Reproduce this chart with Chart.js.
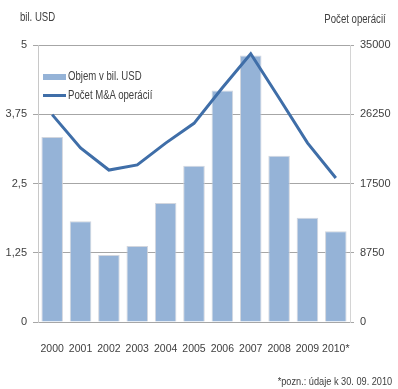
<!DOCTYPE html>
<html>
<head>
<meta charset="utf-8">
<script src="https://cdn.jsdelivr.net/npm/chart.js@4/dist/chart.umd.min.js"></script>
<style>
  html, body { margin: 0; padding: 0; background: #fff; }
  body { width: 398px; height: 389px; position: relative; overflow: hidden;
         font-family: "Liberation Sans", Arial, sans-serif; color: #404040; }
  #wrap { position: absolute; left: 0; top: 0; width: 398px; height: 389px; }
  .lbl { position: absolute; font-size: 12px; white-space: nowrap; line-height: 14px; }
  /* užší rez písma */
  .narrow-l { transform: scaleX(0.8); transform-origin: left center; }
  .narrow-r { transform: scaleX(0.8); transform-origin: right center; }
  .legend { position: absolute; left: 43px; top: 67px; font-size: 12px; line-height: 19px; }
  .legend div { display: flex; align-items: center; }
  .sw-bar { width: 23px; height: 6px; background: #95b3d7; margin-right: 2px; }
  .sw-line { width: 23px; height: 3px; background: #3f6ea8; margin-right: 2px; }
</style>
</head>
<body>
<div id="wrap"><canvas id="chart" width="398" height="389"></canvas></div>
<div class="lbl narrow-l" style="left:20px; top:10px;">bil. USD</div>
<div class="lbl narrow-r" style="right:12px; top:12px;">Počet operácií</div>
<div class="legend">
  <div><span class="sw-bar"></span><span class="narrow-l" style="display:inline-block">Objem v bil. USD</span></div>
  <div><span class="sw-line"></span><span class="narrow-l" style="display:inline-block">Počet M&amp;A operácií</span></div>
</div>
<div class="lbl narrow-r" style="right:6px; top:374px; font-size:11.5px;">*pozn.: údaje k 30. 09. 2010</div>

<script>
// roky, objem transakcií (mld. USD) a počet M&A operácií
const years = ['2000', '2001', '2002', '2003', '2004', '2005', '2006', '2007', '2008', '2009', '2010*'];
const volume = [3.34, 1.82, 1.21, 1.37, 2.15, 2.82, 4.18, 4.81, 3.00, 1.88, 1.64];
const deals = [26200, 22000, 19200, 19850, 22600, 25100, 29600, 33900, 28300, 22640, 18200];
const leftTicks = [0, 1.25, 2.5, 3.75, 5];
const rightTicks = [0, 8750, 17500, 26250, 35000];

const tickFont = { family: '"Liberation Sans", Arial, sans-serif', size: 11 };
const txt = '#404040';

new Chart(document.getElementById('chart'), {
    data: {
        labels: years,
        datasets: [
            {
                type: 'line',
                label: 'Počet M&A operácií',
                data: deals,
                yAxisID: 'y1',
                borderColor: '#3f6ea8',
                borderWidth: 3,
                pointRadius: 0,
                tension: 0,
                order: 0
            },
            {
                type: 'bar',
                label: 'Objem v bil. USD',
                data: volume,
                yAxisID: 'y',
                backgroundColor: '#95b3d7',
                borderColor: 'rgba(205,210,218,0.9)',
                borderWidth: 1,
                barPercentage: 0.76,
                categoryPercentage: 1,
                order: 1
            }
        ]
    },
    options: {
        responsive: false,
        animation: false,
        layout: { padding: { top: 45, bottom: 0, left: 0, right: 0 } },
        plugins: { legend: { display: false }, tooltip: { enabled: false } },
        scales: {
            x: {
                grid: { display: false },
                border: { color: '#a6a6a6' },
                ticks: { color: txt, font: { ...tickFont, size: 10.5 }, padding: 13, maxRotation: 0, autoSkip: false },
                afterFit: s => { s.height = 67; }
            },
            y: {
                position: 'left',
                min: 0, max: 5,
                afterBuildTicks: s => { s.ticks = leftTicks.map(v => ({ value: v })); },
                grid: { color: '#a6a6a6', tickLength: 5 },
                border: { color: '#c8c8c8' },
                ticks: {
                    color: txt, font: tickFont, padding: 6,
                    callback: v => String(v).replace('.', ',')
                },
                afterFit: s => { s.width = 38; }
            },
            y1: {
                position: 'right',
                min: 0, max: 35000,
                afterBuildTicks: s => { s.ticks = rightTicks.map(v => ({ value: v })); },
                grid: { drawOnChartArea: false, color: '#a6a6a6', tickLength: 4 },
                border: { color: '#d4d4d4' },
                ticks: { color: txt, font: tickFont, padding: 6, callback: v => String(v) },
                afterFit: s => { s.width = 48; }
            }
        }
    }
});
</script>
</body>
</html>
